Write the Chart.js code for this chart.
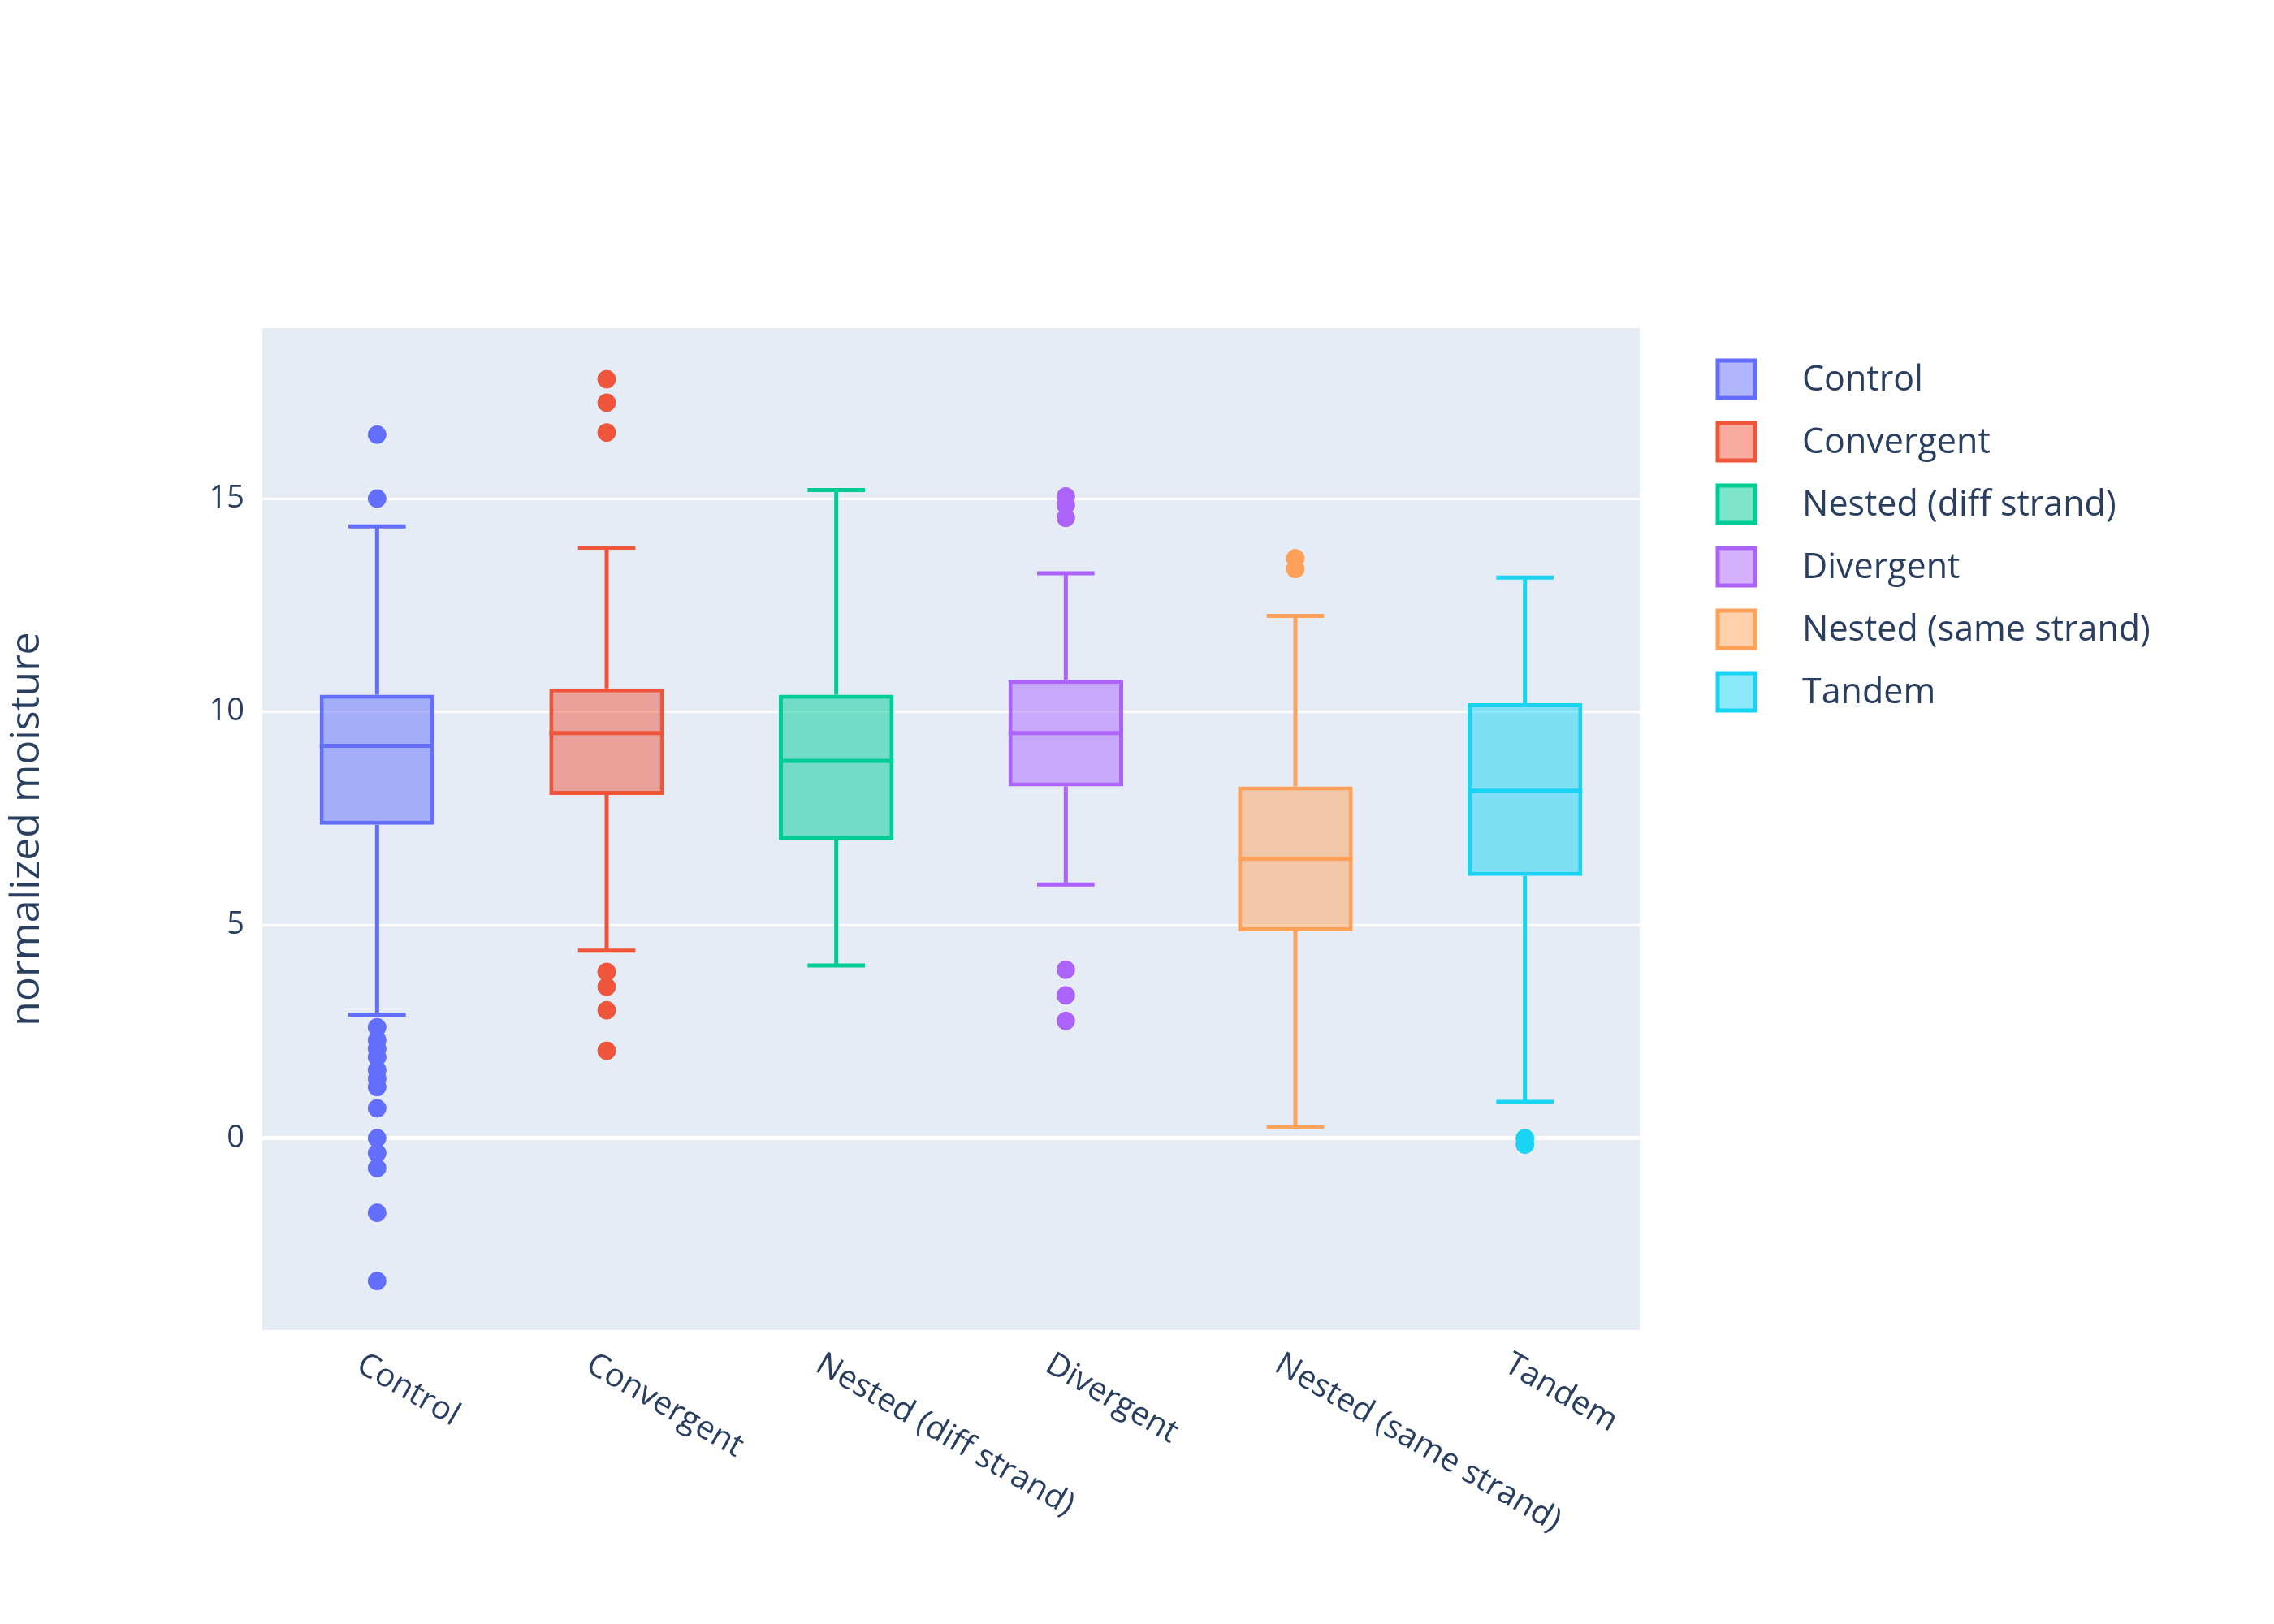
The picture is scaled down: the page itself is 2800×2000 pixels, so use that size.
<!DOCTYPE html>
<html>
<head>
<meta charset="utf-8">
<script src="https://cdn.jsdelivr.net/npm/chart.js@4.4.1/dist/chart.umd.min.js"></script>
<style>
  html, body { margin: 0; padding: 0; background: #fff; }
  #wrap { width: 2800px; height: 2000px; }
</style>
</head>
<body>
<div id="wrap"><canvas id="boxChart" width="2800" height="2000"></canvas></div>
<script>
const categories = ["Control", "Convergent", "Nested (diff strand)", "Divergent", "Nested (same strand)", "Tandem"];
const colors = ["#636efa", "#EF553B", "#00cc96", "#ab63fa", "#FFA15A", "#19d3f3"];
const lowWhisker = [2.9, 4.4, 4.05, 5.95, 0.25, 0.85];
const q1 = [7.35, 8.05, 7.0, 8.25, 4.85, 6.15];
const median = [9.2, 9.5, 8.85, 9.5, 6.55, 8.15];
const q3 = [10.4, 10.55, 10.4, 10.75, 8.25, 10.2];
const highWhisker = [14.35, 13.85, 15.2, 13.25, 12.25, 13.15];
const outliers = [
    [16.5, 15.0, 2.6, 2.3, 2.1, 1.9, 1.6, 1.4, 1.2, 0.7, 0.0, -0.35, -0.7, -1.75, -3.35],
    [17.8, 17.25, 16.55, 3.9, 3.55, 3.0, 2.05],
    [],
    [15.05, 14.85, 14.55, 3.95, 3.35, 2.75],
    [13.6, 13.35],
    [0.0, -0.15],
];
const yTicks = [0, 5, 10, 15];

function alpha(hex, a) {
    const n = parseInt(hex.slice(1), 16);
    return "rgba(" + (n >> 16) + "," + ((n >> 8) & 255) + "," + (n & 255) + "," + a + ")";
}

const datasets = [];
categories.forEach((c, i) => {
    datasets.push({
        type: "bar",
        label: c,
        data: categories.map((_, j) => (j === i ? [q1[i], q3[i]] : null)),
        backgroundColor: alpha(colors[i], 0.5),
        borderColor: colors[i],
        borderWidth: 5,
        borderSkipped: false,
        grouped: false,
        barPercentage: 0.5,
        categoryPercentage: 1,
    });
});
categories.forEach((c, i) => {
    datasets.push({
        type: "scatter",
        label: c + " outliers",
        data: outliers[i].map((v) => ({ x: c, y: v })),
        backgroundColor: colors[i],
        borderColor: colors[i],
        pointRadius: 11,
        pointHoverRadius: 11,
    });
});

// whiskers, medians, x labels and legend
const boxExtras = {
    id: "boxExtras",
    afterDatasetsDraw(chart) {
        const ctx = chart.ctx;
        const x = chart.scales.x;
        const y = chart.scales.y;
        const band = x.getPixelForValue(1) - x.getPixelForValue(0);
        ctx.save();
        categories.forEach((c, i) => {
            const cx = x.getPixelForValue(i);
            const hw = band * 0.25;
            ctx.strokeStyle = colors[i];
            ctx.lineWidth = 5;
            ctx.beginPath();
            ctx.moveTo(cx, y.getPixelForValue(q1[i]));
            ctx.lineTo(cx, y.getPixelForValue(lowWhisker[i]));
            ctx.moveTo(cx, y.getPixelForValue(q3[i]));
            ctx.lineTo(cx, y.getPixelForValue(highWhisker[i]));
            ctx.moveTo(cx - hw / 2, y.getPixelForValue(lowWhisker[i]));
            ctx.lineTo(cx + hw / 2, y.getPixelForValue(lowWhisker[i]));
            ctx.moveTo(cx - hw / 2, y.getPixelForValue(highWhisker[i]));
            ctx.lineTo(cx + hw / 2, y.getPixelForValue(highWhisker[i]));
            ctx.moveTo(cx - hw, y.getPixelForValue(median[i]));
            ctx.lineTo(cx + hw, y.getPixelForValue(median[i]));
            ctx.stroke();
        });
        ctx.restore();
    },
    afterDraw(chart) {
        const ctx = chart.ctx;
        const x = chart.scales.x;
        ctx.save();
        ctx.fillStyle = "#2a3f5f";
        ctx.font = "40px 'Open Sans', 'DejaVu Sans', sans-serif";
        categories.forEach((c, i) => {
            ctx.save();
            ctx.translate(x.getPixelForValue(i) - 12, chart.chartArea.bottom + 22);
            ctx.rotate(Math.PI / 6);
            ctx.textAlign = "left";
            ctx.textBaseline = "top";
            ctx.fillText(c, 0, 0);
            ctx.restore();
        });
        // legend
        ctx.font = "43px 'Open Sans', 'DejaVu Sans', sans-serif";
        ctx.textBaseline = "middle";
        categories.forEach((c, i) => {
            const ly = 467 + i * 77;
            ctx.fillStyle = alpha(colors[i], 0.5);
            ctx.fillRect(2115, ly - 23, 46, 46);
            ctx.strokeStyle = colors[i];
            ctx.lineWidth = 5;
            ctx.strokeRect(2115, ly - 23, 46, 46);
            ctx.fillStyle = "#2a3f5f";
            ctx.fillText(c, 2219, ly + 2);
        });
        ctx.restore();
    },
};

const bgPlugin = {
    id: "plotBg",
    beforeDraw(chart) {
        const a = chart.chartArea;
        chart.ctx.save();
        chart.ctx.fillStyle = "#E5ECF6";
        chart.ctx.fillRect(a.left, a.top, a.right - a.left, a.bottom - a.top);
        chart.ctx.restore();
    },
};

new Chart(document.getElementById("boxChart").getContext("2d"), {
    data: { labels: categories, datasets },
    options: {
        responsive: false,
        animation: false,
        devicePixelRatio: 1,
        layout: { padding: { top: 404, right: 781, bottom: 362, left: 0 } },
        plugins: { legend: { display: false }, tooltip: { enabled: false } },
        scales: {
            x: {
                type: "category",
                offset: true,
                grid: { display: false },
                border: { display: false },
                ticks: { display: false },
                afterFit: (s) => { s.height = 0; },
            },
            y: {
                min: -4.5,
                max: 19.0,
                afterBuildTicks: (s) => { s.ticks = yTicks.map((v) => ({ value: v })); },
                afterFit: (s) => { s.width = 323; },
                border: { display: false },
                grid: {
                    color: "#ffffff",
                    lineWidth: (c) => (c.tick && c.tick.value === 0 ? 5 : 3),
                    drawTicks: false,
                },
                ticks: {
                    color: "#2a3f5f",
                    padding: 22,
                    font: { size: 38, family: "'Open Sans', 'DejaVu Sans', sans-serif" },
                },
                title: {
                    display: true,
                    text: "normalized moisture",
                    color: "#2a3f5f",
                    padding: { bottom: 40 },
                    font: { size: 50, family: "'Open Sans', 'DejaVu Sans', sans-serif" },
                },
            },
        },
    },
    plugins: [bgPlugin, boxExtras],
});
</script>
</body>
</html>
